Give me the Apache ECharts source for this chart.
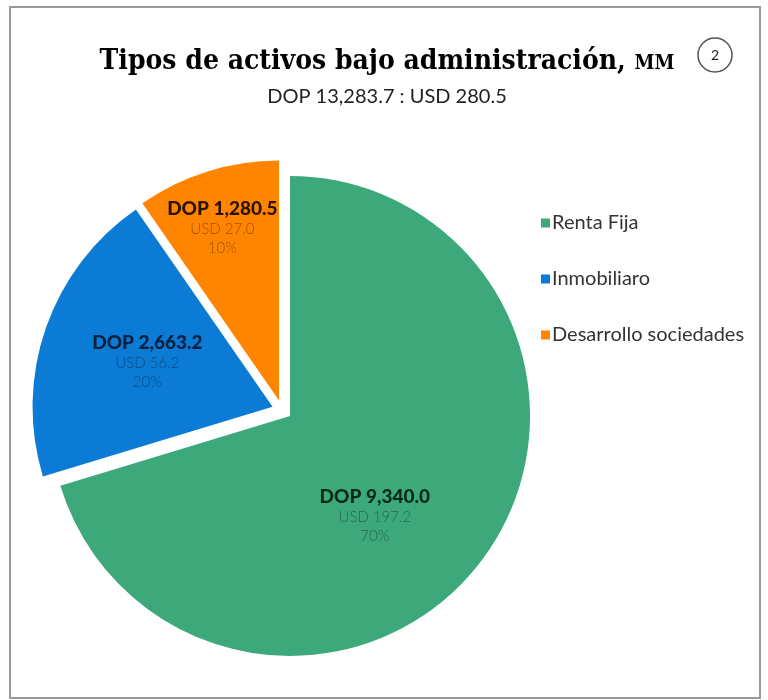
<!DOCTYPE html>
<html>
<head>
<meta charset="utf-8">
<script src="https://cdn.jsdelivr.net/npm/echarts@6/dist/echarts.min.js"></script>
<style>
html,body{margin:0;padding:0;background:#fff;}
#chart{width:768px;height:700px;}
</style>
</head>
<body>
<div id="chart"></div>
<script>
var categories = ['Renta Fija', 'Inmobiliaro', 'Desarrollo sociedades'];
var dopValues = [9340.0, 2663.2, 1280.5];
var usdValues = [197.2, 56.2, 27.0];
var sliceColors = ['#3DA97B', '#0B7BD6', '#FF8500'];
var labelDark = ['#082a1a', '#07203f', '#2e1200'];
var titleText = 'Tipos de activos bajo administración, ';
var titleUnit = 'MM';
var subtitleText = 'DOP 13,283.7 : USD 280.5';
var badgeText = '2';

function fmt(v){
  return v.toLocaleString('en-US', {minimumFractionDigits:1, maximumFractionDigits:1});
}

var chart = echarts.init(document.getElementById('chart'), null, {renderer:'canvas'});

var data = categories.map(function(c, i){
  return {
    name: c,
    value: dopValues[i],
    selected: true,
    itemStyle: {color: sliceColors[i]},
    label: {rich: {
      a: {fontFamily:'Lato', fontWeight:900, fontSize:19, color: labelDark[i], lineHeight:21},
      b: {fontFamily:'Lato', fontWeight:300, fontSize:15, color:'rgba(0,0,0,0.40)', lineHeight:19}
    }}
  };
});

var labelShift = [[-14, 27], [-9, -4], [-20, -55]];

chart.setOption({
  animation: false,
  backgroundColor: '#fff',
  title: {
    text: '{t|' + titleText + '}{s|' + titleUnit + '}',
    subtext: subtitleText,
    left: 382,
    textAlign: 'center',
    top: 43,
    itemGap: 11,
    textStyle: {
      rich: {
        t: {fontFamily:'DejaVu Serif Condensed', fontWeight:'bold', fontSize:28, color:'#000'},
        s: {fontFamily:'DejaVu Serif Condensed', fontWeight:'bold', fontSize:20, color:'#000', padding:[4,0,0,0]}
      }
    },
    subtextStyle: {fontFamily:'Lato', fontSize:20, color:'#222'}
  },
  legend: {
    orient: 'vertical',
    left: 536,
    top: 208,
    itemWidth: 9,
    itemHeight: 9,
    itemGap: 36,
    icon: 'rect',
    selectedMode: false,
    data: categories,
    textStyle: {fontFamily:'Lato', fontSize:20, color:'#333', padding:[0,0,0,-3]}
  },
  graphic: [
    {type:'rect', shape:{x:10, y:7, width:750, height:691}, style:{fill:'none', stroke:'#9a9a9a', lineWidth:2}, z:-1},
    {type:'circle', shape:{cx:715, cy:55, r:17}, style:{fill:'#fff', stroke:'#555', lineWidth:1.5}},
    {type:'text', x:715, y:55, style:{text:badgeText, fontFamily:'Lato', fontSize:14, fill:'#222', align:'center', verticalAlign:'middle'}}
  ],
  series: [{
    type: 'pie',
    center: [282, 410],
    radius: [0, 240],
    startAngle: 90,
    clockwise: true,
    selectedMode: 'multiple',
    selectedOffset: 10,
    avoidLabelOverlap: false,
    emphasis: {disabled: true},
    label: {
      show: true,
      position: 'inside',
      align: 'center',
      formatter: function(p){
        return '{a|DOP ' + fmt(p.value) + '}\n{b|USD ' + fmt(usdValues[p.dataIndex]) + '}\n{b|' + Math.round(p.percent) + '%}';
      }
    },
    labelLine: {show:false},
    labelLayout: function(p){
      var s = labelShift[p.dataIndex];
      return {dx: s[0], dy: s[1]};
    },
    itemStyle: {borderWidth: 0},
    data: data
  }]
});
</script>
</body>
</html>
